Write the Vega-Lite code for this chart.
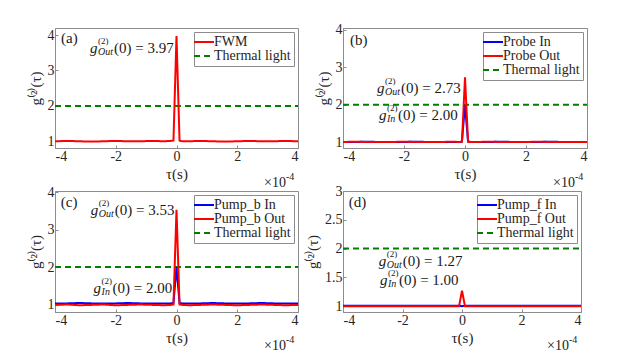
{
  "$schema": "https://vega.github.io/schema/vega-lite/v6.json",
  "background": "white",
  "padding": {"left": 27, "top": 22, "right": 5, "bottom": 5},
  "config": {
    "font": "Liberation Serif",
    "view": {"stroke": "#8c8c8c", "strokeWidth": 1},
    "axis": {"labelFont": "Liberation Serif", "labelFontSize": 14, "labelColor": "#262626", "titleFont": "Liberation Serif", "titleFontSize": 15, "titleFontWeight": "normal", "titleColor": "#262626", "domainColor": "#8c8c8c", "tickColor": "#8c8c8c", "grid": false, "tickSize": -3, "labelPadding": 4, "labelExpr": "'' + datum.value"},
    "axisX": {"titlePadding": 3},
    "axisY": {"titlePadding": 4},
    "legend": {"orient": "top-right", "offset": 4, "padding": 3, "fillColor": "white", "strokeColor": "#8c8c8c", "labelFont": "Liberation Serif", "labelFontSize": 14, "labelColor": "#262626", "symbolStrokeWidth": 2, "rowPadding": 0, "labelOffset": 3, "cornerRadius": 0},
    "text": {"font": "Liberation Serif", "color": "#1a1a1a"}
  },
  "datasets": {
    "th": [{"s": "Thermal light", "t": -4, "g": 2}, {"s": "Thermal light", "t": 4, "g": 2}],
    "a": [
      {"s":"FWM","t":-4,"g":1.0},{"s":"FWM","t":-3.6,"g":1.01},{"s":"FWM","t":-3.2,"g":1.0},{"s":"FWM","t":-2.8,"g":0.99},{"s":"FWM","t":-2.4,"g":1.0},{"s":"FWM","t":-2,"g":1.01},{"s":"FWM","t":-1.6,"g":1.0},{"s":"FWM","t":-1.2,"g":1.0},{"s":"FWM","t":-0.8,"g":1.01},{"s":"FWM","t":-0.4,"g":1.0},{"s":"FWM","t":-0.2,"g":1.01},{"s":"FWM","t":-0.1,"g":1.02},{"s":"FWM","t":0,"g":3.97},{"s":"FWM","t":0.1,"g":1.02},{"s":"FWM","t":0.2,"g":1.0},{"s":"FWM","t":0.4,"g":1.0},{"s":"FWM","t":0.8,"g":1.01},{"s":"FWM","t":1.2,"g":1.0},{"s":"FWM","t":1.6,"g":0.99},{"s":"FWM","t":2,"g":1.0},{"s":"FWM","t":2.4,"g":1.01},{"s":"FWM","t":2.8,"g":1.0},{"s":"FWM","t":3.2,"g":1.0},{"s":"FWM","t":3.6,"g":1.01},{"s":"FWM","t":4,"g":1.0}
    ],
    "b_in": [
      {"s":"Probe In","t":-4,"g":1.0},{"s":"Probe In","t":-3.6,"g":1.0},{"s":"Probe In","t":-3.2,"g":1.01},{"s":"Probe In","t":-2.8,"g":1.0},{"s":"Probe In","t":-2.4,"g":1.0},{"s":"Probe In","t":-2,"g":1.0},{"s":"Probe In","t":-1.6,"g":1.01},{"s":"Probe In","t":-1.2,"g":1.0},{"s":"Probe In","t":-0.8,"g":1.0},{"s":"Probe In","t":-0.4,"g":1.0},{"s":"Probe In","t":-0.2,"g":1.0},{"s":"Probe In","t":-0.1,"g":1.01},{"s":"Probe In","t":0,"g":2.0},{"s":"Probe In","t":0.1,"g":1.01},{"s":"Probe In","t":0.2,"g":1.0},{"s":"Probe In","t":0.4,"g":1.0},{"s":"Probe In","t":0.8,"g":1.0},{"s":"Probe In","t":1.2,"g":1.01},{"s":"Probe In","t":1.6,"g":1.0},{"s":"Probe In","t":2,"g":1.0},{"s":"Probe In","t":2.4,"g":1.0},{"s":"Probe In","t":2.8,"g":1.01},{"s":"Probe In","t":3.2,"g":1.0},{"s":"Probe In","t":3.6,"g":1.0},{"s":"Probe In","t":4,"g":1.0}
    ],
    "b_out": [
      {"s":"Probe Out","t":-4,"g":1.0},{"s":"Probe Out","t":-3.6,"g":1.01},{"s":"Probe Out","t":-3.2,"g":1.0},{"s":"Probe Out","t":-2.8,"g":1.0},{"s":"Probe Out","t":-2.4,"g":1.0},{"s":"Probe Out","t":-2,"g":1.01},{"s":"Probe Out","t":-1.6,"g":1.0},{"s":"Probe Out","t":-1.2,"g":1.0},{"s":"Probe Out","t":-0.8,"g":1.0},{"s":"Probe Out","t":-0.4,"g":1.01},{"s":"Probe Out","t":-0.2,"g":1.0},{"s":"Probe Out","t":-0.1,"g":1.01},{"s":"Probe Out","t":0,"g":2.73},{"s":"Probe Out","t":0.1,"g":1.01},{"s":"Probe Out","t":0.2,"g":1.0},{"s":"Probe Out","t":0.4,"g":1.0},{"s":"Probe Out","t":0.8,"g":1.01},{"s":"Probe Out","t":1.2,"g":1.0},{"s":"Probe Out","t":1.6,"g":1.0},{"s":"Probe Out","t":2,"g":1.0},{"s":"Probe Out","t":2.4,"g":1.01},{"s":"Probe Out","t":2.8,"g":1.0},{"s":"Probe Out","t":3.2,"g":1.0},{"s":"Probe Out","t":3.6,"g":1.0},{"s":"Probe Out","t":4,"g":1.0}
    ],
    "c_in": [
      {"s":"Pump_b In","t":-4,"g":1.03},{"s":"Pump_b In","t":-3.6,"g":1.03},{"s":"Pump_b In","t":-3.2,"g":1.04},{"s":"Pump_b In","t":-2.8,"g":1.03},{"s":"Pump_b In","t":-2.4,"g":1.03},{"s":"Pump_b In","t":-2,"g":1.03},{"s":"Pump_b In","t":-1.6,"g":1.04},{"s":"Pump_b In","t":-1.2,"g":1.03},{"s":"Pump_b In","t":-0.8,"g":1.03},{"s":"Pump_b In","t":-0.4,"g":1.03},{"s":"Pump_b In","t":-0.2,"g":1.03},{"s":"Pump_b In","t":-0.1,"g":1.04},{"s":"Pump_b In","t":0,"g":2.0},{"s":"Pump_b In","t":0.1,"g":1.04},{"s":"Pump_b In","t":0.2,"g":1.03},{"s":"Pump_b In","t":0.4,"g":1.03},{"s":"Pump_b In","t":0.8,"g":1.03},{"s":"Pump_b In","t":1.2,"g":1.04},{"s":"Pump_b In","t":1.6,"g":1.03},{"s":"Pump_b In","t":2,"g":1.03},{"s":"Pump_b In","t":2.4,"g":1.03},{"s":"Pump_b In","t":2.8,"g":1.04},{"s":"Pump_b In","t":3.2,"g":1.03},{"s":"Pump_b In","t":3.6,"g":1.03},{"s":"Pump_b In","t":4,"g":1.03}
    ],
    "c_out": [
      {"s":"Pump_b Out","t":-4,"g":0.99},{"s":"Pump_b Out","t":-3.6,"g":1.0},{"s":"Pump_b Out","t":-3.2,"g":0.98},{"s":"Pump_b Out","t":-2.8,"g":0.99},{"s":"Pump_b Out","t":-2.4,"g":1.0},{"s":"Pump_b Out","t":-2,"g":0.98},{"s":"Pump_b Out","t":-1.6,"g":0.99},{"s":"Pump_b Out","t":-1.2,"g":1.0},{"s":"Pump_b Out","t":-0.8,"g":0.99},{"s":"Pump_b Out","t":-0.4,"g":0.98},{"s":"Pump_b Out","t":-0.2,"g":0.99},{"s":"Pump_b Out","t":-0.1,"g":1.0},{"s":"Pump_b Out","t":0,"g":3.53},{"s":"Pump_b Out","t":0.1,"g":1.0},{"s":"Pump_b Out","t":0.2,"g":0.99},{"s":"Pump_b Out","t":0.4,"g":0.98},{"s":"Pump_b Out","t":0.8,"g":0.99},{"s":"Pump_b Out","t":1.2,"g":1.0},{"s":"Pump_b Out","t":1.6,"g":0.99},{"s":"Pump_b Out","t":2,"g":0.98},{"s":"Pump_b Out","t":2.4,"g":0.99},{"s":"Pump_b Out","t":2.8,"g":1.0},{"s":"Pump_b Out","t":3.2,"g":0.99},{"s":"Pump_b Out","t":3.6,"g":0.98},{"s":"Pump_b Out","t":4,"g":0.99}
    ],
    "d_in": [
      {"s":"Pump_f In","t":-4,"g":1.01},{"s":"Pump_f In","t":-3.6,"g":1.01},{"s":"Pump_f In","t":-3.2,"g":1.01},{"s":"Pump_f In","t":-2.8,"g":1.01},{"s":"Pump_f In","t":-2.4,"g":1.01},{"s":"Pump_f In","t":-2,"g":1.01},{"s":"Pump_f In","t":-1.6,"g":1.01},{"s":"Pump_f In","t":-1.2,"g":1.01},{"s":"Pump_f In","t":-0.8,"g":1.01},{"s":"Pump_f In","t":-0.4,"g":1.01},{"s":"Pump_f In","t":-0.2,"g":1.01},{"s":"Pump_f In","t":-0.1,"g":1.01},{"s":"Pump_f In","t":0,"g":1.0},{"s":"Pump_f In","t":0.1,"g":1.01},{"s":"Pump_f In","t":0.2,"g":1.01},{"s":"Pump_f In","t":0.4,"g":1.01},{"s":"Pump_f In","t":0.8,"g":1.01},{"s":"Pump_f In","t":1.2,"g":1.01},{"s":"Pump_f In","t":1.6,"g":1.01},{"s":"Pump_f In","t":2,"g":1.01},{"s":"Pump_f In","t":2.4,"g":1.01},{"s":"Pump_f In","t":2.8,"g":1.01},{"s":"Pump_f In","t":3.2,"g":1.01},{"s":"Pump_f In","t":3.6,"g":1.01},{"s":"Pump_f In","t":4,"g":1.01}
    ],
    "d_out": [
      {"s":"Pump_f Out","t":-4,"g":1.0},{"s":"Pump_f Out","t":-3.6,"g":1.0},{"s":"Pump_f Out","t":-3.2,"g":1.0},{"s":"Pump_f Out","t":-2.8,"g":1.0},{"s":"Pump_f Out","t":-2.4,"g":1.0},{"s":"Pump_f Out","t":-2,"g":1.0},{"s":"Pump_f Out","t":-1.6,"g":1.0},{"s":"Pump_f Out","t":-1.2,"g":1.0},{"s":"Pump_f Out","t":-0.8,"g":1.0},{"s":"Pump_f Out","t":-0.4,"g":1.0},{"s":"Pump_f Out","t":-0.2,"g":1.0},{"s":"Pump_f Out","t":-0.1,"g":1.0},{"s":"Pump_f Out","t":0,"g":1.27},{"s":"Pump_f Out","t":0.1,"g":1.0},{"s":"Pump_f Out","t":0.2,"g":1.0},{"s":"Pump_f Out","t":0.4,"g":1.0},{"s":"Pump_f Out","t":0.8,"g":1.0},{"s":"Pump_f Out","t":1.2,"g":1.0},{"s":"Pump_f Out","t":1.6,"g":1.0},{"s":"Pump_f Out","t":2,"g":1.0},{"s":"Pump_f Out","t":2.4,"g":1.0},{"s":"Pump_f Out","t":2.8,"g":1.0},{"s":"Pump_f Out","t":3.2,"g":1.0},{"s":"Pump_f Out","t":3.6,"g":1.0},{"s":"Pump_f Out","t":4,"g":1.0}
    ],
    "ann_a": [{"t": -2.85, "g": 3.635, "sub": "Out", "rest": "(0) = 3.97"}],
    "ann_b": [{"t": -2.885, "g": 2.45, "sub": "Out", "rest": "(0) = 2.73"}, {"t": -2.82, "g": 1.73, "sub": "In", "rest": "(0) = 2.00"}],
    "ann_c": [{"t": -2.82, "g": 3.52, "sub": "Out", "rest": "(0) = 3.53"}, {"t": -2.73, "g": 1.44, "sub": "In", "rest": "(0) = 2.00"}],
    "ann_d": [{"t": -2.8, "g": 1.79, "sub": "Out", "rest": "(0) = 1.27"}, {"t": -2.76, "g": 1.45, "sub": "In", "rest": "(0) = 1.00"}],
    "lab_a": [{"t": -3.8, "g": 3.93, "label": "(a)"}],
    "lab_b": [{"t": -3.77, "g": 3.74, "label": "(b)"}],
    "lab_c": [{"t": -3.81, "g": 3.74, "label": "(c)"}],
    "lab_d": [{"t": -3.81, "g": 2.81, "label": "(d)"}],
    "x10_a": [{"t": 4, "g": 0.81}],
    "x10_b": [{"t": 4, "g": 0.84}],
    "x10_c": [{"t": 4, "g": 0.8}],
    "x10_d": [{"t": 4, "g": 0.9}]
  },
  "columns": 2,
  "bounds": "flush",
  "spacing": {"row": 43, "column": 45},
  "resolve": {"scale": {"color": "independent", "strokeDash": "independent"}, "legend": {"color": "independent", "strokeDash": "independent"}},
  "concat": [
        {
          "width": 243, "height": 120,
          "encoding": {
            "x": {"field": "t", "type": "quantitative", "scale": {"domain": [-4, 4], "nice": false}, "axis": {"values": [-4, -2, 0, 2, 4], "title": "τ(s)"}},
            "y": {"field": "g", "type": "quantitative", "scale": {"domain": [0.81, 4.2], "nice": false, "zero": false}, "axis": {"values": [1, 2, 3, 4], "title": "g⁽²⁾(τ)"}}
          },
          "layer": [
            {"data": {"name": "th"}, "mark": {"type": "line", "strokeWidth": 2},
             "encoding": {"color": {"field": "s", "type": "nominal", "scale": {"domain": ["FWM", "Thermal light"], "range": ["#ff0000", "#008000"]}, "legend": {"title": null, "symbolType": "M-2,0L2,0", "symbolSize": 100}},
                          "strokeDash": {"field": "s", "type": "nominal", "scale": {"domain": ["FWM", "Thermal light"], "range": [[1, 0], [6, 4]]}, "legend": {"title": null, "symbolType": "M-2,0L2,0", "symbolSize": 100}}}},
            {"data": {"name": "a"}, "mark": {"type": "line", "strokeWidth": 2},
             "encoding": {"color": {"field": "s", "type": "nominal", "scale": {"domain": ["FWM", "Thermal light"], "range": ["#ff0000", "#008000"]}, "legend": {"title": null, "symbolType": "M-2,0L2,0", "symbolSize": 100}},
                          "strokeDash": {"field": "s", "type": "nominal", "scale": {"domain": ["FWM", "Thermal light"], "range": [[1, 0], [6, 4]]}, "legend": {"title": null, "symbolType": "M-2,0L2,0", "symbolSize": 100}}}},
            {"data": {"name": "lab_a"}, "mark": {"type": "text", "align": "left", "baseline": "middle", "fontSize": 15}, "encoding": {"text": {"field": "label"}}},
            {"data": {"name": "ann_a"}, "mark": {"type": "text", "align": "left", "baseline": "middle", "fontSize": 15, "fontStyle": "italic"}, "encoding": {"text": {"value": "g"}}},
            {"data": {"name": "ann_a"}, "mark": {"type": "text", "align": "left", "baseline": "middle", "fontSize": 9, "dx": 8, "dy": -7}, "encoding": {"text": {"value": "(2)"}}},
            {"data": {"name": "ann_a"}, "mark": {"type": "text", "align": "left", "baseline": "middle", "fontSize": 10, "fontStyle": "italic", "dx": 8, "dy": 4}, "encoding": {"text": {"field": "sub"}}},
            {"data": {"name": "ann_a"}, "transform": [{"filter": "datum.sub == 'Out'"}], "mark": {"type": "text", "align": "left", "baseline": "middle", "fontSize": 15, "dx": 24}, "encoding": {"text": {"field": "rest"}}},
            {"data": {"name": "x10_a"}, "mark": {"type": "text", "align": "right", "baseline": "middle", "fontSize": 14, "dx": -12, "dy": 35}, "encoding": {"text": {"value": "×10"}}},
            {"data": {"name": "x10_a"}, "mark": {"type": "text", "align": "left", "baseline": "middle", "fontSize": 10, "dx": -12, "dy": 29}, "encoding": {"text": {"value": "-4"}}}
          ]
        },
        {
          "width": 244, "height": 120,
          "encoding": {
            "x": {"field": "t", "type": "quantitative", "scale": {"domain": [-4, 4], "nice": false}, "axis": {"values": [-4, -2, 0, 2, 4], "title": "τ(s)"}},
            "y": {"field": "g", "type": "quantitative", "scale": {"domain": [0.84, 4.05], "nice": false, "zero": false}, "axis": {"values": [1, 2, 3, 4], "title": "g⁽²⁾(τ)"}}
          },
          "layer": [
            {"data": {"name": "th"}, "mark": {"type": "line", "strokeWidth": 2},
             "encoding": {"color": {"field": "s", "type": "nominal", "scale": {"domain": ["Probe In", "Probe Out", "Thermal light"], "range": ["#0000ff", "#ff0000", "#008000"]}, "legend": {"title": null, "symbolType": "M-2,0L2,0", "symbolSize": 100}},
                          "strokeDash": {"field": "s", "type": "nominal", "scale": {"domain": ["Probe In", "Probe Out", "Thermal light"], "range": [[1, 0], [1, 0], [6, 4]]}, "legend": {"title": null, "symbolType": "M-2,0L2,0", "symbolSize": 100}}}},
            {"data": {"name": "b_in"}, "mark": {"type": "line", "strokeWidth": 2},
             "encoding": {"color": {"field": "s", "type": "nominal", "scale": {"domain": ["Probe In", "Probe Out", "Thermal light"], "range": ["#0000ff", "#ff0000", "#008000"]}, "legend": {"title": null, "symbolType": "M-2,0L2,0", "symbolSize": 100}},
                          "strokeDash": {"field": "s", "type": "nominal", "scale": {"domain": ["Probe In", "Probe Out", "Thermal light"], "range": [[1, 0], [1, 0], [6, 4]]}, "legend": {"title": null, "symbolType": "M-2,0L2,0", "symbolSize": 100}}}},
            {"data": {"name": "b_out"}, "mark": {"type": "line", "strokeWidth": 2},
             "encoding": {"color": {"field": "s", "type": "nominal", "scale": {"domain": ["Probe In", "Probe Out", "Thermal light"], "range": ["#0000ff", "#ff0000", "#008000"]}, "legend": {"title": null, "symbolType": "M-2,0L2,0", "symbolSize": 100}},
                          "strokeDash": {"field": "s", "type": "nominal", "scale": {"domain": ["Probe In", "Probe Out", "Thermal light"], "range": [[1, 0], [1, 0], [6, 4]]}, "legend": {"title": null, "symbolType": "M-2,0L2,0", "symbolSize": 100}}}},
            {"data": {"name": "lab_b"}, "mark": {"type": "text", "align": "left", "baseline": "middle", "fontSize": 15}, "encoding": {"text": {"field": "label"}}},
            {"data": {"name": "ann_b"}, "mark": {"type": "text", "align": "left", "baseline": "middle", "fontSize": 15, "fontStyle": "italic"}, "encoding": {"text": {"value": "g"}}},
            {"data": {"name": "ann_b"}, "mark": {"type": "text", "align": "left", "baseline": "middle", "fontSize": 9, "dx": 8, "dy": -7}, "encoding": {"text": {"value": "(2)"}}},
            {"data": {"name": "ann_b"}, "mark": {"type": "text", "align": "left", "baseline": "middle", "fontSize": 10, "fontStyle": "italic", "dx": 8, "dy": 4}, "encoding": {"text": {"field": "sub"}}},
            {"data": {"name": "ann_b"}, "transform": [{"filter": "datum.sub == 'Out'"}], "mark": {"type": "text", "align": "left", "baseline": "middle", "fontSize": 15, "dx": 24}, "encoding": {"text": {"field": "rest"}}},
            {"data": {"name": "ann_b"}, "transform": [{"filter": "datum.sub == 'In'"}], "mark": {"type": "text", "align": "left", "baseline": "middle", "fontSize": 15, "dx": 19}, "encoding": {"text": {"field": "rest"}}},
            {"data": {"name": "x10_b"}, "mark": {"type": "text", "align": "right", "baseline": "middle", "fontSize": 14, "dx": -12, "dy": 35}, "encoding": {"text": {"value": "×10"}}},
            {"data": {"name": "x10_b"}, "mark": {"type": "text", "align": "left", "baseline": "middle", "fontSize": 10, "dx": -12, "dy": 29}, "encoding": {"text": {"value": "-4"}}}
          ]
        },
        {
          "width": 243, "height": 121,
          "encoding": {
            "x": {"field": "t", "type": "quantitative", "scale": {"domain": [-4, 4], "nice": false}, "axis": {"values": [-4, -2, 0, 2, 4], "title": "τ(s)"}},
            "y": {"field": "g", "type": "quantitative", "scale": {"domain": [0.8, 4.03], "nice": false, "zero": false}, "axis": {"values": [1, 2, 3, 4], "title": "g⁽²⁾(τ)"}}
          },
          "layer": [
            {"data": {"name": "th"}, "mark": {"type": "line", "strokeWidth": 2},
             "encoding": {"color": {"field": "s", "type": "nominal", "scale": {"domain": ["Pump_b In", "Pump_b Out", "Thermal light"], "range": ["#0000ff", "#ff0000", "#008000"]}, "legend": {"title": null, "symbolType": "M-2,0L2,0", "symbolSize": 100}},
                          "strokeDash": {"field": "s", "type": "nominal", "scale": {"domain": ["Pump_b In", "Pump_b Out", "Thermal light"], "range": [[1, 0], [1, 0], [6, 4]]}, "legend": {"title": null, "symbolType": "M-2,0L2,0", "symbolSize": 100}}}},
            {"data": {"name": "c_in"}, "mark": {"type": "line", "strokeWidth": 2},
             "encoding": {"color": {"field": "s", "type": "nominal", "scale": {"domain": ["Pump_b In", "Pump_b Out", "Thermal light"], "range": ["#0000ff", "#ff0000", "#008000"]}, "legend": {"title": null, "symbolType": "M-2,0L2,0", "symbolSize": 100}},
                          "strokeDash": {"field": "s", "type": "nominal", "scale": {"domain": ["Pump_b In", "Pump_b Out", "Thermal light"], "range": [[1, 0], [1, 0], [6, 4]]}, "legend": {"title": null, "symbolType": "M-2,0L2,0", "symbolSize": 100}}}},
            {"data": {"name": "c_out"}, "mark": {"type": "line", "strokeWidth": 2},
             "encoding": {"color": {"field": "s", "type": "nominal", "scale": {"domain": ["Pump_b In", "Pump_b Out", "Thermal light"], "range": ["#0000ff", "#ff0000", "#008000"]}, "legend": {"title": null, "symbolType": "M-2,0L2,0", "symbolSize": 100}},
                          "strokeDash": {"field": "s", "type": "nominal", "scale": {"domain": ["Pump_b In", "Pump_b Out", "Thermal light"], "range": [[1, 0], [1, 0], [6, 4]]}, "legend": {"title": null, "symbolType": "M-2,0L2,0", "symbolSize": 100}}}},
            {"data": {"name": "lab_c"}, "mark": {"type": "text", "align": "left", "baseline": "middle", "fontSize": 15}, "encoding": {"text": {"field": "label"}}},
            {"data": {"name": "ann_c"}, "mark": {"type": "text", "align": "left", "baseline": "middle", "fontSize": 15, "fontStyle": "italic"}, "encoding": {"text": {"value": "g"}}},
            {"data": {"name": "ann_c"}, "mark": {"type": "text", "align": "left", "baseline": "middle", "fontSize": 9, "dx": 8, "dy": -7}, "encoding": {"text": {"value": "(2)"}}},
            {"data": {"name": "ann_c"}, "mark": {"type": "text", "align": "left", "baseline": "middle", "fontSize": 10, "fontStyle": "italic", "dx": 8, "dy": 4}, "encoding": {"text": {"field": "sub"}}},
            {"data": {"name": "ann_c"}, "transform": [{"filter": "datum.sub == 'Out'"}], "mark": {"type": "text", "align": "left", "baseline": "middle", "fontSize": 15, "dx": 24}, "encoding": {"text": {"field": "rest"}}},
            {"data": {"name": "ann_c"}, "transform": [{"filter": "datum.sub == 'In'"}], "mark": {"type": "text", "align": "left", "baseline": "middle", "fontSize": 15, "dx": 19}, "encoding": {"text": {"field": "rest"}}},
            {"data": {"name": "x10_c"}, "mark": {"type": "text", "align": "right", "baseline": "middle", "fontSize": 14, "dx": -12, "dy": 34}, "encoding": {"text": {"value": "×10"}}},
            {"data": {"name": "x10_c"}, "mark": {"type": "text", "align": "left", "baseline": "middle", "fontSize": 10, "dx": -12, "dy": 28}, "encoding": {"text": {"value": "-4"}}}
          ]
        },
        {
          "width": 238, "height": 121,
          "encoding": {
            "x": {"field": "t", "type": "quantitative", "scale": {"domain": [-4, 4], "nice": false}, "axis": {"values": [-4, -2, 0, 2, 4], "title": "τ(s)"}},
            "y": {"field": "g", "type": "quantitative", "scale": {"domain": [0.9, 3.0], "nice": false, "zero": false}, "axis": {"values": [1, 1.5, 2, 2.5, 3], "title": "g⁽²⁾(τ)"}}
          },
          "layer": [
            {"data": {"name": "th"}, "mark": {"type": "line", "strokeWidth": 2},
             "encoding": {"color": {"field": "s", "type": "nominal", "scale": {"domain": ["Pump_f In", "Pump_f Out", "Thermal light"], "range": ["#0000ff", "#ff0000", "#008000"]}, "legend": {"title": null, "symbolType": "M-2,0L2,0", "symbolSize": 100}},
                          "strokeDash": {"field": "s", "type": "nominal", "scale": {"domain": ["Pump_f In", "Pump_f Out", "Thermal light"], "range": [[1, 0], [1, 0], [6, 4]]}, "legend": {"title": null, "symbolType": "M-2,0L2,0", "symbolSize": 100}}}},
            {"data": {"name": "d_in"}, "mark": {"type": "line", "strokeWidth": 2},
             "encoding": {"color": {"field": "s", "type": "nominal", "scale": {"domain": ["Pump_f In", "Pump_f Out", "Thermal light"], "range": ["#0000ff", "#ff0000", "#008000"]}, "legend": {"title": null, "symbolType": "M-2,0L2,0", "symbolSize": 100}},
                          "strokeDash": {"field": "s", "type": "nominal", "scale": {"domain": ["Pump_f In", "Pump_f Out", "Thermal light"], "range": [[1, 0], [1, 0], [6, 4]]}, "legend": {"title": null, "symbolType": "M-2,0L2,0", "symbolSize": 100}}}},
            {"data": {"name": "d_out"}, "mark": {"type": "line", "strokeWidth": 2},
             "encoding": {"color": {"field": "s", "type": "nominal", "scale": {"domain": ["Pump_f In", "Pump_f Out", "Thermal light"], "range": ["#0000ff", "#ff0000", "#008000"]}, "legend": {"title": null, "symbolType": "M-2,0L2,0", "symbolSize": 100}},
                          "strokeDash": {"field": "s", "type": "nominal", "scale": {"domain": ["Pump_f In", "Pump_f Out", "Thermal light"], "range": [[1, 0], [1, 0], [6, 4]]}, "legend": {"title": null, "symbolType": "M-2,0L2,0", "symbolSize": 100}}}},
            {"data": {"name": "lab_d"}, "mark": {"type": "text", "align": "left", "baseline": "middle", "fontSize": 15}, "encoding": {"text": {"field": "label"}}},
            {"data": {"name": "ann_d"}, "mark": {"type": "text", "align": "left", "baseline": "middle", "fontSize": 15, "fontStyle": "italic"}, "encoding": {"text": {"value": "g"}}},
            {"data": {"name": "ann_d"}, "mark": {"type": "text", "align": "left", "baseline": "middle", "fontSize": 9, "dx": 8, "dy": -7}, "encoding": {"text": {"value": "(2)"}}},
            {"data": {"name": "ann_d"}, "mark": {"type": "text", "align": "left", "baseline": "middle", "fontSize": 10, "fontStyle": "italic", "dx": 8, "dy": 4}, "encoding": {"text": {"field": "sub"}}},
            {"data": {"name": "ann_d"}, "transform": [{"filter": "datum.sub == 'Out'"}], "mark": {"type": "text", "align": "left", "baseline": "middle", "fontSize": 15, "dx": 24}, "encoding": {"text": {"field": "rest"}}},
            {"data": {"name": "ann_d"}, "transform": [{"filter": "datum.sub == 'In'"}], "mark": {"type": "text", "align": "left", "baseline": "middle", "fontSize": 15, "dx": 19}, "encoding": {"text": {"field": "rest"}}},
            {"data": {"name": "x10_d"}, "mark": {"type": "text", "align": "right", "baseline": "middle", "fontSize": 14, "dx": -12, "dy": 34}, "encoding": {"text": {"value": "×10"}}},
            {"data": {"name": "x10_d"}, "mark": {"type": "text", "align": "left", "baseline": "middle", "fontSize": 10, "dx": -12, "dy": 28}, "encoding": {"text": {"value": "-4"}}}
          ]
        }
  ]
}
